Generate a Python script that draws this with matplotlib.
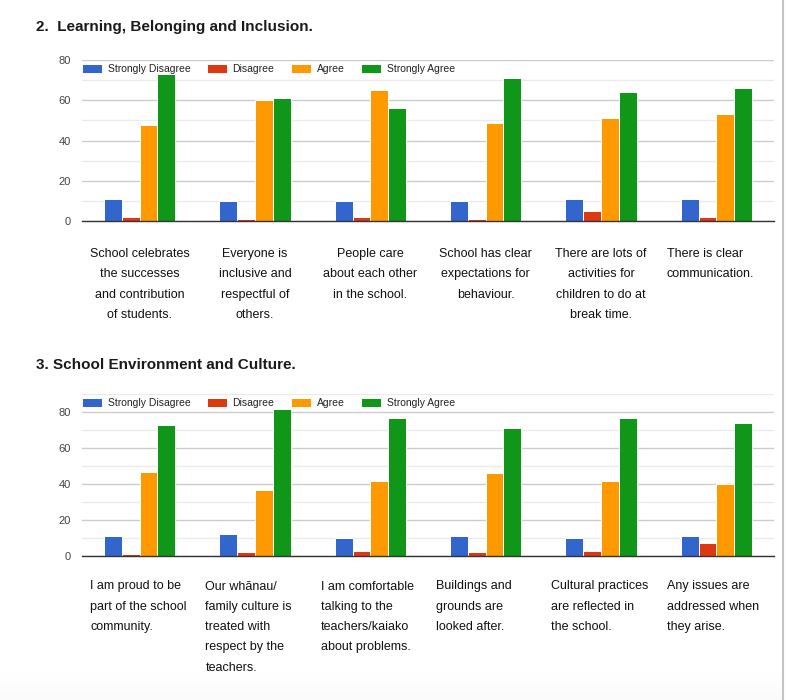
import numpy as np
import matplotlib
matplotlib.use('Agg')
import matplotlib.pyplot as plt
from matplotlib.lines import Line2D
from matplotlib.ticker import MultipleLocator
from matplotlib.transforms import blended_transform_factory

plt.rcParams['font.family'] = ['Liberation Sans', 'DejaVu Sans']

W, H = 786, 700

series = ['Strongly Disagree', 'Disagree', 'Agree', 'Strongly Agree']
colors = ['#3366cc', '#dc3912', '#ff9900', '#109618']

# --- section 2: Learning, Belonging and Inclusion ---
s2_title = '2.  Learning, Belonging and Inclusion.'
s2_labels = ['School celebrates\nthe successes\nand contribution\nof students.',
             'Everyone is\ninclusive and\nrespectful of\nothers.',
             'People care\nabout each other\nin the school.',
             'School has clear\nexpectations for\nbehaviour.',
             'There are lots of\nactivities for\nchildren to do at\nbreak time.',
             'There is clear\ncommunication.']
s2_align = ['center', 'center', 'center', 'center', 'center', 'left']
s2_strongly_disagree = [11, 10, 10, 10, 11, 11]
s2_disagree = [2, 1, 2, 1, 5, 2]
s2_agree = [48, 60, 65, 49, 51, 53]
s2_strongly_agree = [73, 61, 56, 71, 64, 66]

# --- section 3: School Environment and Culture ---
s3_title = '3. School Environment and Culture.'
s3_labels = ['I am proud to be\npart of the school\ncommunity.',
             'Our whānau/\nfamily culture is\ntreated with\nrespect by the\nteachers.',
             'I am comfortable\ntalking to the\nteachers/kaiako\nabout problems.',
             'Buildings and\ngrounds are\nlooked after.',
             'Cultural practices\nare reflected in\nthe school.',
             'Any issues are\naddressed when\nthey arise.']
s3_align = ['left'] * 6
s3_strongly_disagree = [11, 12, 10, 11, 10, 11]
s3_disagree = [1, 2, 3, 2, 3, 7]
s3_agree = [47, 37, 42, 46, 42, 40]
s3_strongly_agree = [73, 82, 77, 71, 77, 74]


def px_box(left, top, right, bottom):
    return [left / W, 1 - bottom / H, (right - left) / W, (bottom - top) / H]


def draw_section(fig, box, title, title_y, labels, align, values, ymax, label_top):
    ax = fig.add_axes(px_box(*box))
    x = np.arange(len(labels))
    bw = 0.154
    for k, (vals, col) in enumerate(zip(values, colors)):
        ax.bar(x + (k - 1.5) * bw, vals, bw, color=col, edgecolor='white',
               linewidth=0.7, zorder=3, label=series[k])

    ax.set_xlim(-0.5, len(labels) - 0.5)
    ax.set_ylim(0, ymax)
    ax.yaxis.set_major_locator(MultipleLocator(20))
    ax.yaxis.set_minor_locator(MultipleLocator(10))
    ax.grid(axis='y', which='major', color='#cccccc', linewidth=1.0, zorder=0)
    ax.grid(axis='y', which='minor', color='#ebebeb', linewidth=1.0, zorder=0)
    ax.tick_params(axis='y', which='both', length=0, pad=8, labelsize=8, labelcolor='#444444')
    ax.tick_params(axis='x', length=0, labelbottom=False)
    for s in ['top', 'right', 'left']:
        ax.spines[s].set_visible(False)
    ax.spines['bottom'].set_color('#333333')
    ax.spines['bottom'].set_linewidth(1.0)
    ax.spines['bottom'].set_zorder(4)

    leg = ax.legend(ncol=4, loc='center left', bbox_to_anchor=(0, 0.944),
                    frameon=False, fontsize=7.5, borderpad=0, borderaxespad=0,
                    handlelength=1.95, handleheight=0.95, handletextpad=0.5,
                    columnspacing=1.6)
    leg.set_zorder(2)
    for t in leg.get_texts():
        t.set_color('#222222')

    trans = blended_transform_factory(ax.transData, fig.transFigure)
    for i, (lab, al) in enumerate(zip(labels, align)):
        xi = i if al == 'center' else i - 0.43
        ax.text(xi, 1 - label_top / H, lab, transform=trans, ha=al, va='top',
                multialignment=al, fontsize=9, color='#111111', linespacing=1.92)

    fig.text(36 / W, 1 - title_y / H, title, fontsize=11, fontweight='bold',
             color='#1a1a1a', va='center', ha='left')
    return ax


fig = plt.figure(figsize=(W / 100, H / 100), dpi=100)

draw_section(fig, (82, 60, 774, 221.3), s2_title, 27, s2_labels, s2_align,
             [s2_strongly_disagree, s2_disagree, s2_agree, s2_strongly_agree],
             80, 248)
draw_section(fig, (82, 394.3, 774, 556), s3_title, 365, s3_labels, s3_align,
             [s3_strongly_disagree, s3_disagree, s3_agree, s3_strongly_agree],
             90, 580.5)

# page edge on the right and soft shadow at the bottom
fig.add_artist(Line2D([783 / W, 783 / W], [0, 1], color='#c4c4c4', linewidth=1.5))
shade = fig.add_axes(px_box(0, 672, 782, 700))
grad = np.linspace(0, 1, 50).reshape(-1, 1)
shade.imshow(grad, aspect='auto', cmap='Greys', vmin=0, vmax=25, extent=(0, 1, 0, 1), origin='upper')
shade.axis('off')

fig.savefig('out.png', dpi=100)
